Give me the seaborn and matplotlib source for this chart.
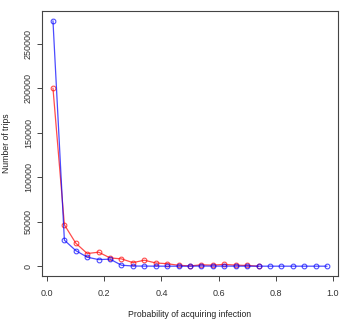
import matplotlib
matplotlib.use('Agg')
import matplotlib.pyplot as plt
import seaborn as sns
import pandas as pd
import numpy as np

# probability bins (x) and number of trips for each series
prob_red = [0.02, 0.06, 0.10, 0.14, 0.18, 0.22, 0.26, 0.30, 0.34, 0.38, 0.42,
            0.46, 0.50, 0.54, 0.58, 0.62, 0.66, 0.70, 0.74]
trips_red = [200000, 46500, 25800, 14200, 15700, 9300, 8200, 4000, 6700, 3600, 2800,
             1000, 300, 1500, 1200, 2000, 1200, 800, 0]

prob_blue = [0.02, 0.06, 0.10, 0.14, 0.18, 0.22, 0.26, 0.30, 0.34, 0.38, 0.42,
             0.46, 0.50, 0.54, 0.58, 0.62, 0.66, 0.70, 0.74, 0.78, 0.82, 0.86,
             0.90, 0.94, 0.98]
trips_blue = [275500, 29200, 17500, 10100, 7400, 7900, 1100, 200, 100, 50, 0,
              0, 0, 200, 100, 100, 50, 30, 0, 0, 0, 0, 0, 0, 0]

x_ticks = [0.0, 0.2, 0.4, 0.6, 0.8, 1.0]
y_ticks = [0, 50000, 100000, 150000, 200000, 250000]

sns.set_style("white")
plt.rcParams["font.family"] = ["Liberation Sans", "DejaVu Sans"]

df_red = pd.DataFrame({"prob": prob_red, "trips": trips_red})
df_blue = pd.DataFrame({"prob": prob_blue, "trips": trips_blue})

fig = plt.figure(figsize=(3.49, 3.29), dpi=100)
ax = fig.add_axes([42 / 349, 53 / 329, 296 / 349, 265 / 329])

for d, col in [(df_red, "red"), (df_blue, "blue")]:
    sns.lineplot(data=d, x="prob", y="trips", ax=ax, color=col, lw=0.9, alpha=0.7,
                 marker="o", markersize=3.4, markerfacecolor="none",
                 markeredgecolor=col, markeredgewidth=0.8)

ax.set_xlim(0.02 - 0.0384, 0.98 + 0.0384)
ymax = max(trips_blue)
ax.set_ylim(-0.04 * ymax, 1.04 * ymax)
ax.set_xticks(x_ticks)
ax.set_xticklabels([f"{v:.1f}" for v in x_ticks])
ax.set_yticks(y_ticks)
ax.set_yticklabels([str(v) for v in y_ticks], rotation=90, va="center")

for s in ax.spines.values():
    s.set_color("#444444")
    s.set_linewidth(0.8)
ax.tick_params(axis="both", direction="out", length=3.6, width=0.7, color="#444444",
               labelsize=6.5, labelcolor="#333333", bottom=True, left=True)
ax.tick_params(axis="x", pad=5.5)
ax.tick_params(axis="y", pad=3)

ax.set_xlabel("Probability of acquiring infection", fontsize=6.2, color="#222222", labelpad=9)
ax.set_ylabel("Number of trips", fontsize=6.2, color="#222222", labelpad=9)

fig.savefig("out.png", dpi=100)
